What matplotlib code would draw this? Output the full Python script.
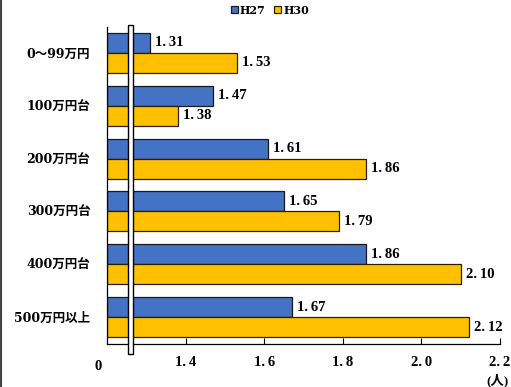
import matplotlib
matplotlib.use("Agg")
import matplotlib.pyplot as plt
from matplotlib.patches import Rectangle
from matplotlib.transforms import blended_transform_factory
import numpy as np

plt.rcParams['font.family'] = ['Liberation Serif', 'Noto Sans CJK JP']
plt.rcParams['font.weight'] = 'bold'
LABEL_FAMILY = ['DejaVu Serif', 'Noto Sans CJK JP']

categories = ["0～99万円", "100万円台", "200万円台", "300万円台", "400万円台", "500万円以上"]
h27 = [1.31, 1.47, 1.61, 1.65, 1.86, 1.67]
h30 = [1.53, 1.38, 1.86, 1.79, 2.10, 2.12]
series_names = ["H27", "H30"]
xticks = [1.4, 1.6, 1.8, 2.0, 2.2]
unit = "(人)"

BLUE = "#4472C4"
YELLOW = "#FFC000"
BASE = 1.2
FS = 10.5

def fmt(v, nd):
    return f"{v:.{nd}f}".replace(".", ".\u2009")

fig = plt.figure(figsize=(5.11, 3.87), dpi=100)
ax = fig.add_axes([107/511, 1-343.5/387, 393/511, 317/387])

y = np.arange(len(categories))
h = 0.379
b1 = ax.barh(y - h/2, np.array(h27) - BASE, left=BASE, height=h, color=BLUE,
             edgecolor="#1a1a1a", linewidth=0.9, label=series_names[0])
b2 = ax.barh(y + h/2, np.array(h30) - BASE, left=BASE, height=h, color=YELLOW,
             edgecolor="#2a2000", linewidth=0.9, label=series_names[1])

for yy, v in zip(y - h/2, h27):
    ax.text(v + 0.013, yy, fmt(v, 2), va="center", ha="left", fontsize=FS)
for yy, v in zip(y + h/2, h30):
    ax.text(v + 0.013, yy, fmt(v, 2), va="center", ha="left", fontsize=FS)

ax.set_xlim(BASE, 2.2)
ax.set_ylim(len(categories) - 0.5, -0.5)
ax.set_yticks(y)
ax.set_yticklabels(categories, fontsize=9, family=LABEL_FAMILY)
ax.tick_params(axis="y", length=0, pad=12)
ax.set_xticks(xticks)
ax.set_xticklabels([fmt(t, 1) for t in xticks], fontsize=FS)
ax.tick_params(axis="x", direction="in", length=4, width=0.8, pad=9)
for s in ["top", "right"]:
    ax.spines[s].set_visible(False)
for s in ["left", "bottom"]:
    ax.spines[s].set_linewidth(0.9)

# axis break marks
trans = blended_transform_factory(ax.transData, ax.transAxes)
ax.add_patch(Rectangle((1.2534, -0.034), 0.0135, 1.04, transform=trans,
                       facecolor="white", edgecolor="black", linewidth=1.0,
                       clip_on=False, zorder=5))
ax.text(1.178, -0.052, "0", transform=trans, ha="center", va="top", fontsize=FS)

fig.text(497/511, 1-380/387, unit, ha="center", va="center", fontsize=9.5)

leg = fig.legend(handles=[b1, b2], labels=series_names, loc="center",
                 bbox_to_anchor=(270/511, 1-10/387), ncol=2, frameon=False,
                 prop={'family': 'DejaVu Serif', 'weight': 'bold', 'size': 8},
                 handlelength=0.6, handleheight=0.6,
                 handletextpad=0.2, columnspacing=0.8)

# frame edge on the left of the figure
fig.add_artist(plt.Line2D([0.001, 0.001], [0, 1], color="#444444", linewidth=1.5,
                          transform=fig.transFigure))

fig.savefig("out.png", dpi=100)
